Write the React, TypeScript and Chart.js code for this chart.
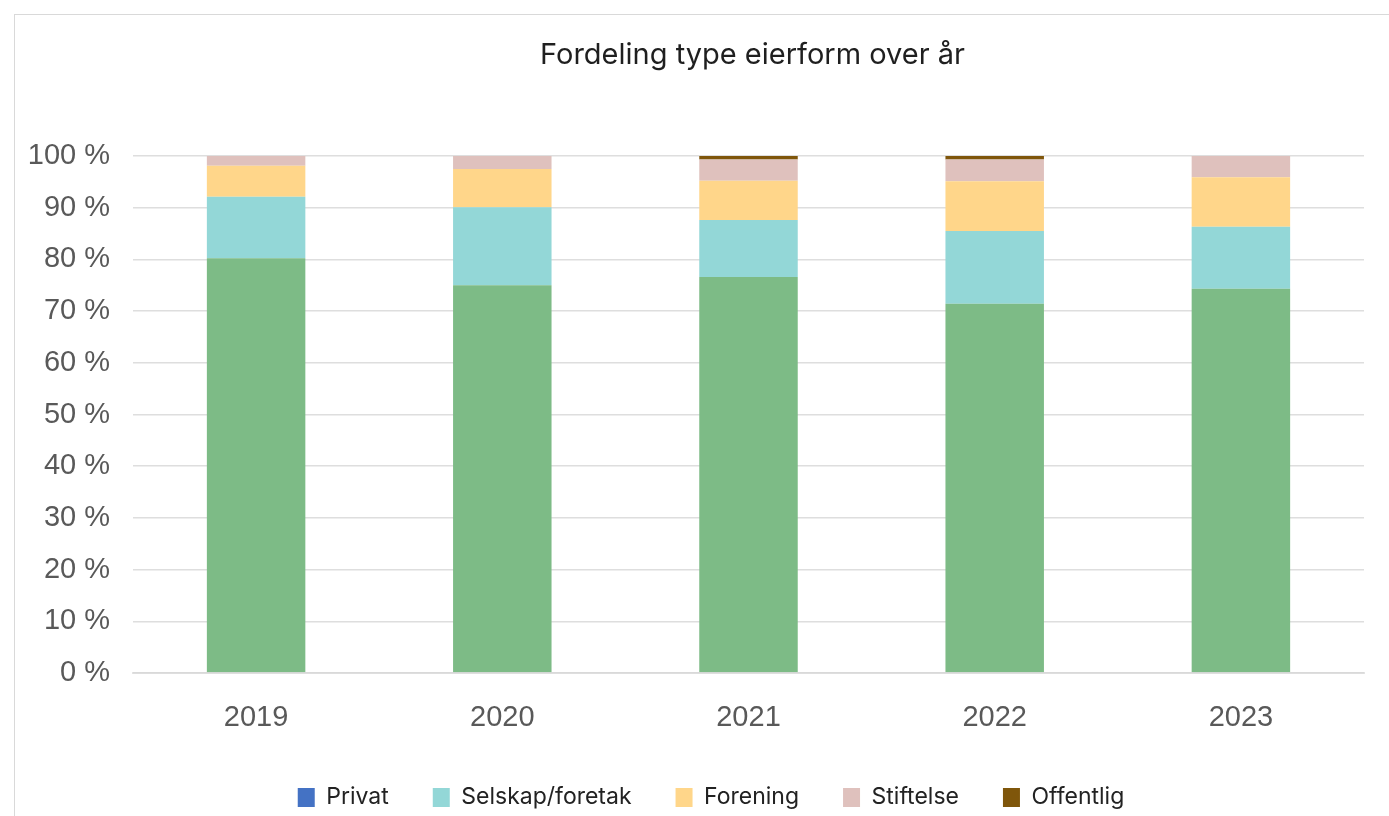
import React, { useEffect, useRef } from "react";
import { Chart, registerables } from "chart.js";

Chart.register(...registerables);

const TITLE = "Fordeling type eierform over år";
const years = ["2019", "2020", "2021", "2022", "2023"];
const seriesNames = ["Privat", "Selskap/foretak", "Forening", "Stiftelse", "Offentlig"];
const privat = [80.2, 75.0, 76.6, 71.4, 74.3];
const selskap = [11.9, 15.1, 11.0, 14.1, 12.0];
const forening = [6.0, 7.4, 7.6, 9.6, 9.6];
const stiftelse = [1.9, 2.5, 4.1, 4.2, 4.1];
const offentlig = [0, 0, 0.7, 0.7, 0];
const barColors = ["#7dbb86", "#93d7d7", "#ffd68a", "#dfc1bd", "#7f560b"];
const legendColors = ["#4472c4", "#93d7d7", "#ffd68a", "#dfc1bd", "#7f560b"];

const tickFont = "'Liberation Sans', Arial, sans-serif";
const textFont = "Inter, 'Open Sans', sans-serif";

const titlePlugin = {
  id: "customTitle",
  afterDraw(chart: any) {
    const ctx = chart.ctx;
    ctx.save();
    ctx.font = `29px ${textFont}`;
    ctx.fillStyle = "#1f1f1f";
    ctx.textAlign = "center";
    ctx.textBaseline = "middle";
    ctx.fillText(TITLE, 738.5, 41);
    ctx.restore();
  },
};

// let the y tick labels extend into the left layout padding without being clipped
const unclipPlugin = {
  id: "unclipY",
  afterLayout(chart: any) {
    if (chart.scales.y) chart.scales.y.left = 0;
  },
};

export default function App() {
  const ref = useRef<HTMLCanvasElement | null>(null);
  useEffect(() => {
    if (!ref.current) return;
    const values = [privat, selskap, forening, stiftelse, offentlig];
    const chart = new Chart(ref.current, {
      type: "bar",
      data: {
        labels: years,
        datasets: seriesNames.map((name, i) => ({
          label: name,
          data: values[i],
          backgroundColor: barColors[i],
          borderWidth: 0,
          categoryPercentage: 1,
          barPercentage: 0.4,
        })),
      },
      options: {
        animation: false,
        responsive: true,
        maintainAspectRatio: false,
        layout: { padding: { left: 44, right: 44, top: 142, bottom: 0 } },
        plugins: {
          title: { display: false },
          tooltip: { enabled: false },
          legend: {
            position: "bottom",
            labels: {
              boxWidth: 17,
              boxHeight: 19,
              padding: 44,
              color: "#222222",
              font: { family: textFont, size: 23 },
              generateLabels: (c: any) => {
                const items = (Chart.defaults.plugins.legend.labels as any).generateLabels(c);
                items.forEach((it: any) => {
                  it.fillStyle = legendColors[it.datasetIndex];
                  it.strokeStyle = legendColors[it.datasetIndex];
                  it.lineWidth = 0;
                });
                return items;
              },
            },
          },
        },
        scales: {
          x: {
            stacked: true,
            grid: { display: false, drawTicks: false },
            border: { display: true, color: "rgba(215,215,215,0.7)", width: 2, z: 1 },
            ticks: {
              color: "#595959",
              padding: 28,
              font: { family: tickFont, size: 29 },
            },
            afterFit: (s: any) => {
              s.height = 69;
            },
          },
          y: {
            stacked: true,
            min: 0,
            max: 100,
            grid: { color: "#dedede", lineWidth: 1.5, drawTicks: false },
            border: { display: false },
            ticks: {
              stepSize: 10,
              color: "#595959",
              padding: 23,
              font: { family: tickFont, size: 29 },
              callback: (v: any) => `${v} %`,
            },
            afterFit: (s: any) => {
              s.width = 75;
            },
          },
        },
      },
      plugins: [titlePlugin, unclipPlugin],
    } as any);
    return () => chart.destroy();
  }, []);

  return (
    <>
      <div
        style={{
          position: "fixed",
          left: 14,
          top: 14,
          width: 1400,
          height: 820,
          border: "1px solid #d9d9d9",
          boxSizing: "border-box",
          background: "#ffffff",
        }}
      />
      <div style={{ position: "fixed", left: 14, top: 14, width: 1394, height: 805 }}>
        <canvas ref={ref} />
      </div>
    </>
  );
}
